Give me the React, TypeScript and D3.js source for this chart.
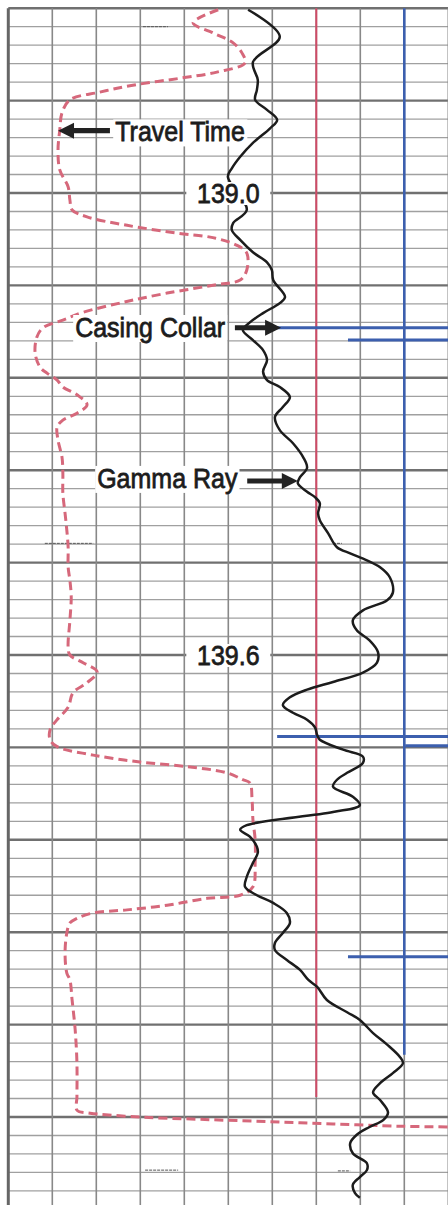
import * as d3 from "d3";
import { useEffect } from "react";

const W = 448;
const H = 1205;

// track divisions, 0 = left edge, 10 = right edge
const divisions = d3.range(0, 11);

// depth grid: minor every 0.024, heavy every 5th line
const gridDepths = d3.range(0, 65).map((i) => 138.76 + i * 0.024);

// depth labels printed on the track
const depthLabels = [139.0, 139.6];

// gamma ray trace: [depth, division]
const gammaRay: [number, number][] = [
  [138.762, 5.45], [138.797, 6.17], [138.83, 5.56], [138.853, 5.67], [138.866, 5.65],
  [138.879, 5.61], [138.892, 5.88], [138.905, 6.11], [138.916, 5.95], [138.935, 5.56],
  [138.953, 5.27], [138.968, 5.08], [138.979, 4.99], [139.022, 5.42], [139.039, 5.11],
  [139.048, 5.08], [139.061, 5.27], [139.077, 5.56], [139.09, 5.88], [139.1, 5.99],
  [139.113, 6.02], [139.135, 6.29], [139.143, 6.17], [139.156, 5.79], [139.168, 5.49],
  [139.178, 5.33], [139.191, 5.56], [139.204, 5.79], [139.217, 5.88], [139.232, 5.79],
  [139.243, 5.88], [139.252, 6.17], [139.265, 6.4], [139.278, 6.24], [139.291, 6.06],
  [139.308, 6.17], [139.325, 6.47], [139.343, 6.7], [139.357, 6.79], [139.369, 6.63],
  [139.377, 6.58], [139.388, 6.79], [139.395, 6.97], [139.403, 7.08], [139.416, 7.04],
  [139.425, 7.08], [139.442, 7.27], [139.46, 7.47], [139.468, 7.77], [139.477, 8.15],
  [139.486, 8.45], [139.499, 8.67], [139.519, 8.74], [139.529, 8.61], [139.542, 8.06],
  [139.555, 7.83], [139.568, 7.92], [139.581, 8.21], [139.596, 8.4], [139.61, 8.38],
  [139.623, 8.06], [139.635, 7.38], [139.645, 6.79], [139.655, 6.4], [139.665, 6.24],
  [139.675, 6.47], [139.684, 6.79], [139.694, 6.97], [139.704, 7.02], [139.71, 7.08],
  [139.723, 7.61], [139.732, 8.06], [139.74, 8.06], [139.753, 7.7], [139.762, 7.47],
  [139.771, 7.38], [139.784, 7.83], [139.795, 7.99], [139.804, 7.38], [139.821, 5.42],
  [139.827, 5.27], [139.836, 5.49], [139.849, 5.65], [139.857, 5.67], [139.87, 5.56],
  [139.888, 5.42], [139.901, 5.38], [139.912, 5.65], [139.922, 6.02], [139.935, 6.33],
  [139.948, 6.4], [139.961, 6.24], [139.974, 6.06], [139.983, 6.06], [139.996, 6.33],
  [140.009, 6.63], [140.022, 6.82], [140.031, 7.02], [140.048, 7.24], [140.064, 7.7],
  [140.074, 7.99], [140.091, 8.29], [140.106, 8.61], [140.122, 8.9], [140.13, 8.97],
  [140.143, 8.74], [140.156, 8.45], [140.168, 8.29], [140.178, 8.45], [140.194, 8.63],
  [140.204, 8.52], [140.213, 8.21], [140.223, 7.92], [140.234, 7.77], [140.247, 7.83],
  [140.26, 8.15], [140.269, 8.15], [140.278, 7.99], [140.288, 7.83], [140.299, 7.88],
  [140.305, 7.99],
];

// travel time trace: [depth, division]
const travelTime: [number, number][] = [
  [138.762, 4.77], [138.779, 4.2], [138.792, 4.65], [138.805, 5.11], [138.818, 5.31],
  [138.831, 5.38], [138.843, 4.74], [138.851, 3.9], [138.86, 2.83], [138.869, 2.08],
  [138.879, 1.4], [138.896, 1.22], [138.918, 1.17], [138.944, 1.13], [138.97, 1.17],
  [138.992, 1.36], [139.009, 1.4], [139.022, 1.45], [139.031, 1.79], [139.042, 2.7],
  [139.052, 3.83], [139.058, 4.65], [139.068, 5.2], [139.078, 5.42], [139.1, 5.42],
  [139.113, 5.27], [139.119, 4.74], [139.13, 3.61], [139.142, 2.61], [139.155, 1.7],
  [139.165, 1.24], [139.175, 0.79], [139.187, 0.65], [139.208, 0.61], [139.226, 0.72],
  [139.234, 0.88], [139.243, 1.11], [139.252, 1.24], [139.262, 1.56], [139.275, 1.79],
  [139.286, 1.56], [139.295, 1.24], [139.304, 1.11], [139.321, 1.13], [139.343, 1.22],
  [139.364, 1.24], [139.39, 1.24], [139.416, 1.29], [139.438, 1.33], [139.46, 1.36],
  [139.486, 1.36], [139.503, 1.4], [139.525, 1.43], [139.555, 1.4], [139.59, 1.36],
  [139.6, 1.4], [139.61, 1.7], [139.622, 2.02], [139.636, 1.79], [139.649, 1.47],
  [139.668, 1.36], [139.684, 1.11], [139.697, 0.95], [139.71, 0.95], [139.719, 1.11],
  [139.73, 1.93], [139.739, 2.99], [139.745, 4.06], [139.753, 4.97], [139.762, 5.33],
  [139.766, 5.49], [139.788, 5.54], [139.814, 5.56], [139.84, 5.61], [139.87, 5.61],
  [139.901, 5.56], [139.912, 5.27], [139.916, 4.52], [139.925, 3.61], [139.931, 2.7],
  [139.935, 1.93], [139.942, 1.56], [139.948, 1.4], [139.961, 1.33], [139.987, 1.29],
  [140.013, 1.33], [140.022, 1.4], [140.048, 1.45], [140.087, 1.52], [140.13, 1.56],
  [140.174, 1.56], [140.191, 1.56], [140.195, 1.86], [140.2, 2.99], [140.203, 4.36],
  [140.206, 5.88], [140.209, 7.38], [140.212, 8.9], [140.213, 10.05],
];

// casing collar marks: [depth, starting division]
const collarMarks: [number, number][] = [
  [139.175, 6.11], [139.191, 7.72], [139.706, 6.11], [139.718, 9.02], [139.992, 7.72],
];

// reference lines: [division, bottom depth, colour]
const refLines: [number, number, string][] = [
  [7.0, 140.174, "#cf4a66"],
  [9.0, 140.119, "#3c5fae"],
];

// faint pencil ticks on the paper: [depth, from division, to division]
const paperTicks: [number, number, number][] = [
  [138.784, 3.06, 3.63], [139.455, 0.83, 1.93], [139.455, 7.38, 7.58],
  [140.269, 3.11, 3.86], [140.27, 7.49, 7.77],
];

// text annotations: [label, baseline depth, left division]
const notes: [string, number, number][] = [
  ["Travel Time", 138.933, 2.43],
  ["Casing Collar", 139.187, 1.52],
  ["Gamma Ray", 139.383, 2.02],
];

// arrows: [depth, tail division, tip division]
const arrows: [number, number, number][] = [
  [138.919, 2.31, 1.13],
  [139.175, 5.15, 6.2],
  [139.374, 5.43, 6.58],
];

const FONT = "Liberation Sans, Arial, sans-serif";
const FS = 25;

function textWidth(t: string): number {
  const ctx = document.createElement("canvas").getContext("2d");
  if (!ctx) return t.length * FS * 0.55;
  ctx.font = `${FS}px ${FONT}`;
  return ctx.measureText(t).width;
}

export default function App() {
  useEffect(() => {
    document.body.style.margin = "0";
  }, []);

  const x = d3.scaleLinear().domain([0, 10]).range([8.3, 448.3]);
  const y = d3.scaleLinear().domain([139.0, 140.2]).range([193, 1117]);

  const line = d3
    .line<[number, number]>()
    .x((d) => x(d[1]))
    .y((d) => y(d[0]))
    .curve(d3.curveCatmullRom.alpha(0.5));

  const arrowPath = (depth: number, from: number, to: number) => {
    const yy = y(depth);
    const tail = x(from);
    const tip = x(to);
    const s = tip > tail ? 1 : -1;
    const hb = tip - s * 16;
    return `M${tail},${yy - 2.6}L${hb},${yy - 2.6}L${hb},${yy - 8}L${tip},${yy}L${hb},${yy + 8}L${hb},${yy + 2.6}L${tail},${yy + 2.6}Z`;
  };

  const textStyle = {
    fontFamily: FONT,
    fontSize: FS,
    fill: "#1c1c1c",
    stroke: "#1c1c1c",
    strokeWidth: 0.7,
  };

  return (
    <svg
      width={W}
      height={H}
      style={{ display: "block", position: "absolute", left: 0, top: 0, background: "#fff" }}
    >
      {/* depth grid */}
      <g>
        {gridDepths.map((d, i) => (
          <line
            key={`h${i}`}
            x1={x(0)}
            x2={W}
            y1={y(d)}
            y2={y(d)}
            stroke={i % 5 === 0 ? "#707070" : "#a0a0a0"}
            strokeWidth={i % 5 === 0 ? 2.4 : 1.3}
          />
        ))}
        {divisions.map((v) => (
          <line
            key={`v${v}`}
            x1={x(v)}
            x2={x(v)}
            y1={y(gridDepths[0])}
            y2={H}
            stroke={v === 0 ? "#666" : "#888"}
            strokeWidth={v === 0 ? 3 : 1.6}
          />
        ))}
      </g>

      {/* pencil ticks */}
      {paperTicks.map(([d, a, b], i) => (
        <line
          key={`p${i}`}
          x1={x(a)}
          x2={x(b)}
          y1={y(d)}
          y2={y(d)}
          stroke="#555"
          strokeWidth={1}
          strokeDasharray="3 1"
        />
      ))}

      {/* reference lines */}
      {refLines.map(([v, bottom, c], i) => (
        <line
          key={`r${i}`}
          x1={x(v)}
          x2={x(v)}
          y1={y(gridDepths[0])}
          y2={y(bottom)}
          stroke={c}
          strokeWidth={i === 0 ? 2 : 2.6}
        />
      ))}

      {/* casing collar marks */}
      {collarMarks.map(([d, from], i) => (
        <line
          key={`c${i}`}
          x1={x(from)}
          x2={W}
          y1={y(d)}
          y2={y(d)}
          stroke="#3c5fae"
          strokeWidth={3}
        />
      ))}

      {/* travel time */}
      <path
        d={line(travelTime) ?? ""}
        fill="none"
        stroke="#d6687b"
        strokeWidth={3}
        strokeDasharray="9 5"
      />

      {/* gamma ray */}
      <path d={line(gammaRay) ?? ""} fill="none" stroke="#1c1c1c" strokeWidth={2.5} />

      {/* depth labels */}
      {depthLabels.map((d) => {
        const t = d.toFixed(1);
        const cx = x(5);
        return (
          <g key={t}>
            <rect x={cx - 42} y={y(d) - 11} width={84} height={23} fill="#fff" />
            <text
              transform={`translate(${cx},${y(d) + 10}) scale(1,1.12)`}
              textAnchor="middle"
              style={textStyle}
            >
              {t}
            </text>
          </g>
        );
      })}

      {/* annotations */}
      {notes.map(([t, d, v]) => {
        const w = textWidth(t);
        return (
          <g key={t}>
            <rect x={x(v) - 2} y={y(d) - 22} width={w + 4} height={27} fill="#fff" />
            <text transform={`translate(${x(v)},${y(d)}) scale(1,1.12)`} style={textStyle}>
              {t}
            </text>
          </g>
        );
      })}

      {arrows.map(([d, a, b], i) => (
        <path key={`a${i}`} d={arrowPath(d, a, b)} fill="#222" />
      ))}
    </svg>
  );
}
